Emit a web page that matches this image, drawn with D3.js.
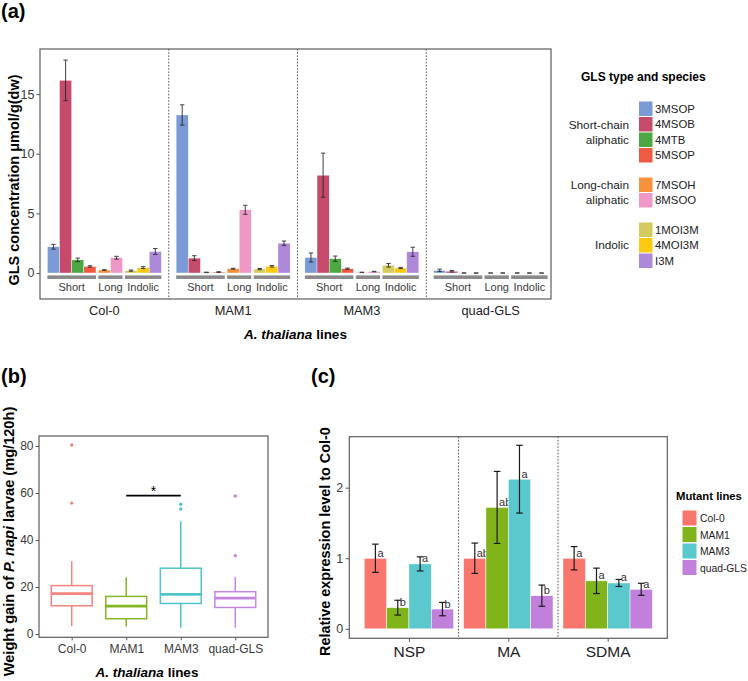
<!DOCTYPE html>
<html><head><meta charset="utf-8">
<script src="https://cdn.jsdelivr.net/npm/d3@7"></script>
<style>
body{margin:0;background:#fff;}
svg{display:block;font-family:"Liberation Sans",Arial,Helvetica,sans-serif;}
</style></head><body>
<svg id="chart" width="748" height="681"></svg>
<script>
// ================= DATA =================
// Panel (a): GLS concentration
const linesA = ["Col-0", "MAM1", "MAM3", "quad-GLS"];
const speciesA = ["3MSOP", "4MSOB", "4MTB", "5MSOP", "7MSOH", "8MSOO", "1MOI3M", "4MOI3M", "I3M"];
const typeA = ["Short", "Short", "Short", "Short", "Long", "Long", "Indolic", "Indolic", "Indolic"];
const typeOrder = ["Short", "Long", "Indolic"];
const legendGroupLabels = [["Short-chain", "aliphatic"], ["Long-chain", "aliphatic"], ["Indolic"]];
const speciesColors = ["#7b9bd7", "#c64a6c", "#4ba843", "#ef5a45", "#f5923a", "#ef97c6", "#d3cb5e", "#fbc90f", "#ae88d9"];
const glsCol0 = [2.2, 16.15, 1.1, 0.55, 0.25, 1.28, 0.2, 0.45, 1.8];
const glsCol0Err = [0.2, 1.7, 0.15, 0.06, 0.03, 0.12, 0.05, 0.08, 0.25];
const glsMAM1 = [13.25, 1.25, 0.05, 0.08, 0.36, 5.3, 0.33, 0.56, 2.5];
const glsMAM1Err = [0.85, 0.2, 0.02, 0.03, 0.04, 0.38, 0.05, 0.06, 0.18];
const glsMAM3 = [1.3, 8.2, 1.2, 0.36, 0.05, 0.12, 0.65, 0.42, 1.78];
const glsMAM3Err = [0.38, 1.85, 0.22, 0.05, 0.02, 0.02, 0.15, 0.05, 0.38];
const glsQuad = [0.22, 0.15, 0, 0, 0, 0, 0, 0, 0];
const glsQuadErr = [0.1, 0.06, 0.01, 0.01, 0.01, 0.01, 0.01, 0.01, 0.01];
const yTicksA = [0, 5, 10, 15];

// Panel (b): larval weight gain box plots
const boxLines = ["Col-0", "MAM1", "MAM3", "quad-GLS"];
const boxColors = ["#f4837b", "#86b524", "#4ec5ca", "#c485e3"];
const boxQ1 = [12.0, 6.5, 13.0, 11.3];
const boxMedian = [17.2, 11.9, 16.9, 15.3];
const boxQ3 = [20.6, 16.0, 28.0, 18.0];
const boxWhiskerLow = [3.4, 3.1, 2.7, 2.6];
const boxWhiskerHigh = [31.0, 24.2, 48.0, 24.3];
const boxOutliers = [[80.4, 55.7], [], [55.2, 53.2], [58.7, 33.3]];
const sigPair = ["MAM1", "MAM3"];
const sigLevel = 58.9;
const sigLabel = "*";
const yTicksB = [0, 20, 40, 60, 80];

// Panel (c): relative expression
const genes = ["NSP", "MA", "SDMA"];
const mutantLines = ["Col-0", "MAM1", "MAM3", "quad-GLS"];
const mutantColors = ["#f8766d", "#80b41a", "#5bc8cd", "#c280dd"];
const exprCol0 = [1.0, 1.0, 1.0];
const exprCol0Err = [0.2, 0.215, 0.165];
const exprMAM1 = [0.3, 1.72, 0.68];
const exprMAM1Err = [0.105, 0.51, 0.18];
const exprMAM3 = [0.92, 2.12, 0.65];
const exprMAM3Err = [0.1, 0.48, 0.05];
const exprQuad = [0.28, 0.47, 0.56];
const exprQuadErr = [0.095, 0.15, 0.085];
const lettersCol0 = ["a", "ab", "a"];
const lettersMAM1 = ["b", "ab", "a"];
const lettersMAM3 = ["a", "a", "a"];
const lettersQuad = ["b", "b", "a"];
const yTicksC = [0, 1, 2];

// ================= DRAWING =================
const svg = d3.select("#chart");
const frameColor = "#5c5c5c";
const tickText = "#3a3a3a";
const intFmt = d3.format("d");

function styleAxis(g, fs) {
  g.select(".domain").remove();
  g.selectAll(".tick line").attr("stroke", "#555");
  g.selectAll(".tick text").attr("fill", tickText).style("font-size", fs + "px");
}

// ---------- Panel (a) ----------
const A = {left: 40, right: 551, top: 49, bottom: 299};
const yA = d3.scaleLinear().domain([-2.18, 18.78]).range([A.bottom, A.top]);
const facetA = d3.scaleBand().domain(linesA).range([A.left, 555]);
const unitPos = speciesA.map((s, i) => i + typeOrder.indexOf(typeA[i]) * 0.19);
const innerA = d3.scaleLinear().domain([0, 9.38]).range([-57, 57]);
const barWA = innerA(1) - innerA(0);
const valsA = [glsCol0, glsMAM1, glsMAM3, glsQuad];
const errsA = [glsCol0Err, glsMAM1Err, glsMAM3Err, glsQuadErr];

const gA = svg.append("g");
gA.append("g").attr("transform", `translate(${A.left},0)`)
  .call(d3.axisLeft(yA).tickValues(yTicksA).tickFormat(intFmt).tickSize(3.5).tickPadding(2))
  .call(g => styleAxis(g, 12.5));

linesA.forEach((ln, li) => {
  const cx = facetA(ln) + facetA.bandwidth() / 2;
  const fg = gA.append("g");
  speciesA.forEach((sp, i) => {
    const v = valsA[li][i], e = errsA[li][i];
    const x0 = cx + innerA(unitPos[i]);
    fg.append("rect").attr("x", x0).attr("width", barWA)
      .attr("y", yA(v)).attr("height", Math.max(0, yA(0) - yA(v)))
      .attr("fill", speciesColors[i]).attr("stroke", "#fff").attr("stroke-width", 0.4);
    const bx = x0 + barWA / 2;
    const eg = fg.append("g").attr("stroke", "#222").attr("stroke-width", 1).attr("opacity", 0.85);
    eg.append("line").attr("x1", bx).attr("x2", bx).attr("y1", yA(v - e)).attr("y2", yA(v + e));
    [v - e, v + e].forEach(t => eg.append("line").attr("x1", bx - 2.2).attr("x2", bx + 2.2).attr("y1", yA(t)).attr("y2", yA(t)));
  });
  typeOrder.forEach(tp => {
    const idx = typeA.map((t, i) => t === tp ? i : -1).filter(i => i >= 0);
    const xs = cx + innerA(unitPos[idx[0]]);
    const xe = cx + innerA(unitPos[idx[idx.length - 1]] + 1);
    fg.append("rect").attr("x", xs).attr("width", xe - xs)
      .attr("y", yA(-0.2)).attr("height", yA(-0.5) - yA(-0.2)).attr("fill", "#8a8a8a");
    fg.append("text").attr("x", (xs + xe) / 2).attr("y", 290.5).attr("text-anchor", "middle")
      .style("font-size", "11px").attr("fill", tickText).text(tp);
  });
  gA.append("text").attr("x", cx).attr("y", 314.5).attr("text-anchor", "middle")
    .style("font-size", "12.8px").attr("fill", "#222").text(ln);
});
linesA.slice(1).forEach(ln => {
  gA.append("line").attr("x1", facetA(ln)).attr("x2", facetA(ln)).attr("y1", A.top).attr("y2", A.bottom)
    .attr("stroke", "#555").attr("stroke-width", 1).attr("stroke-dasharray", "1.6,1.6");
});
gA.append("rect").attr("x", A.left).attr("y", A.top).attr("width", A.right - A.left).attr("height", A.bottom - A.top)
  .attr("fill", "none").attr("stroke", frameColor).attr("stroke-width", 1.2);

svg.append("text").attr("x", 1).attr("y", 18).style("font-size", "20px").style("font-weight", "bold").text("(a)");
svg.append("text").attr("transform", `translate(19,${(A.top + A.bottom) / 2 + 6}) rotate(-90)`).attr("text-anchor", "middle")
  .style("font-size", "14.5px").style("font-weight", "bold").text("GLS concentration μmol/g(dw)");
const tA = svg.append("text").attr("x", (A.left + A.right) / 2).attr("y", 338.5).attr("text-anchor", "middle")
  .style("font-size", "13.5px").style("font-weight", "bold");
tA.append("tspan").style("font-style", "italic").text("A. thaliana");
tA.append("tspan").text(" lines");

// legend (a)
svg.append("text").attr("x", 581).attr("y", 81).style("font-size", "12px").style("font-weight", "bold").text("GLS type and species");
const legTop = i => 101.5 + i * 15.5 + typeOrder.indexOf(typeA[i]) * 14;
speciesA.forEach((sp, i) => {
  svg.append("rect").attr("x", 639).attr("y", legTop(i)).attr("width", 13.5).attr("height", 14.5).attr("fill", speciesColors[i]);
  svg.append("text").attr("x", 655).attr("y", legTop(i) + 11).style("font-size", "11.4px").attr("fill", "#222").text(sp);
});
typeOrder.forEach((tp, gi) => {
  const idx = typeA.map((t, i) => t === tp ? i : -1).filter(i => i >= 0);
  const cy = (legTop(idx[0]) + legTop(idx[idx.length - 1]) + 14.5) / 2;
  const lbl = legendGroupLabels[gi];
  lbl.forEach((l, k) => {
    svg.append("text").attr("x", 629).attr("y", cy + 4 + (k - (lbl.length - 1) / 2) * 15)
      .attr("text-anchor", "end").style("font-size", "11.8px").attr("fill", "#222").text(l);
  });
});

// ---------- Panel (b) ----------
const B = {left: 39, right: 268, top: 436, bottom: 637.3};
const yB = d3.scaleLinear().domain([-1.4, 84.25]).range([B.bottom, B.top]);
const xB = d3.scalePoint().domain(boxLines).range([B.left, B.right]).padding(0.6);
const bwB = xB.step() * 0.75;
const gB = svg.append("g");
gB.append("g").attr("transform", `translate(${B.left},0)`)
  .call(d3.axisLeft(yB).tickValues(yTicksB).tickFormat(intFmt).tickSize(3.5).tickPadding(2))
  .call(g => styleAxis(g, 12));
gB.append("g").attr("transform", `translate(0,${B.bottom})`)
  .call(d3.axisBottom(xB).tickSize(3).tickPadding(4))
  .call(g => styleAxis(g, 12));

boxLines.forEach((ln, i) => {
  const cx = xB(ln), col = boxColors[i];
  const g = gB.append("g").attr("stroke", col).attr("fill", "none").attr("stroke-width", 1.5);
  g.append("line").attr("x1", cx).attr("x2", cx).attr("y1", yB(boxQ3[i])).attr("y2", yB(boxWhiskerHigh[i]));
  g.append("line").attr("x1", cx).attr("x2", cx).attr("y1", yB(boxQ1[i])).attr("y2", yB(boxWhiskerLow[i]));
  g.append("rect").attr("x", cx - bwB / 2).attr("width", bwB).attr("y", yB(boxQ3[i])).attr("height", yB(boxQ1[i]) - yB(boxQ3[i]))
    .attr("fill", "#fff");
  g.append("line").attr("x1", cx - bwB / 2).attr("x2", cx + bwB / 2).attr("y1", yB(boxMedian[i])).attr("y2", yB(boxMedian[i]))
    .attr("stroke-width", 2.8);
  boxOutliers[i].forEach(o => gB.append("circle").attr("cx", cx).attr("cy", yB(o)).attr("r", 1.7).attr("fill", col));
});
gB.append("line").attr("x1", xB(sigPair[0])).attr("x2", xB(sigPair[1])).attr("y1", yB(sigLevel)).attr("y2", yB(sigLevel))
  .attr("stroke", "#000").attr("stroke-width", 1.6);
gB.append("text").attr("x", (xB(sigPair[0]) + xB(sigPair[1])) / 2).attr("y", yB(sigLevel) + 0.5).attr("text-anchor", "middle")
  .style("font-size", "14px").text(sigLabel);
gB.append("rect").attr("x", B.left).attr("y", B.top).attr("width", B.right - B.left).attr("height", B.bottom - B.top)
  .attr("fill", "none").attr("stroke", frameColor).attr("stroke-width", 1.2);

svg.append("text").attr("x", 1).attr("y", 383).style("font-size", "20px").style("font-weight", "bold").text("(b)");
const tBy = svg.append("text").attr("transform", `translate(14,541.5) rotate(-90)`).attr("text-anchor", "middle")
  .style("font-size", "14.6px").style("font-weight", "bold");
tBy.append("tspan").text("Weight gain of ");
tBy.append("tspan").style("font-style", "italic").text("P. napi");
tBy.append("tspan").text(" larvae (mg/120h)");
const tBx = svg.append("text").attr("x", 147).attr("y", 676.5).attr("text-anchor", "middle")
  .style("font-size", "13.5px").style("font-weight", "bold");
tBx.append("tspan").style("font-style", "italic").text("A. thaliana");
tBx.append("tspan").text(" lines");

// ---------- Panel (c) ----------
const C = {left: 349.3, right: 667.3, top: 436.7, bottom: 638.3};
const yC = d3.scaleLinear().domain([-0.134, 2.722]).range([C.bottom, C.top]);
const xC = d3.scalePoint().domain(genes).range([C.left, C.right]).padding(0.6);
const dodge = d3.scaleBand().domain(mutantLines).range([-0.45 * xC.step(), 0.45 * xC.step()]);
const valsC = [exprCol0, exprMAM1, exprMAM3, exprQuad];
const errsC = [exprCol0Err, exprMAM1Err, exprMAM3Err, exprQuadErr];
const letC = [lettersCol0, lettersMAM1, lettersMAM3, lettersQuad];
const gC = svg.append("g");
gC.append("g").attr("transform", `translate(${C.left},0)`)
  .call(d3.axisLeft(yC).tickValues(yTicksC).tickFormat(intFmt).tickSize(3.5).tickPadding(2.5))
  .call(g => styleAxis(g, 12.5));
gC.append("g").attr("transform", `translate(0,${C.bottom})`)
  .call(d3.axisBottom(xC).tickSize(3.5).tickPadding(4))
  .call(g => styleAxis(g, 15.5));
gC.selectAll("g.tick text").filter(function(){ return genes.includes(this.textContent); }).attr("fill", "#222");

genes.forEach((gn, gi) => {
  mutantLines.forEach((ml, mi) => {
    const v = valsC[mi][gi], e = errsC[mi][gi];
    const x0 = xC(gn) + dodge(ml);
    gC.append("rect").attr("x", x0).attr("width", dodge.bandwidth()).attr("y", yC(v)).attr("height", yC(0) - yC(v))
      .attr("fill", mutantColors[mi]).attr("stroke", "#fff").attr("stroke-width", 0.5);
    const bx = x0 + dodge.bandwidth() / 2;
    const eg = gC.append("g").attr("stroke", "#1a1a1a").attr("stroke-width", 1.2);
    eg.append("line").attr("x1", bx).attr("x2", bx).attr("y1", yC(v - e)).attr("y2", yC(v + e));
    [v - e, v + e].forEach(t => eg.append("line").attr("x1", bx - 3.3).attr("x2", bx + 3.3).attr("y1", yC(t)).attr("y2", yC(t)));
    gC.append("text").attr("x", bx + 2).attr("y", yC(v) - 1.5).style("font-size", "11px").attr("fill", "#333").text(letC[mi][gi]);
  });
});
genes.slice(1).forEach((gn, k) => {
  const xd = (xC(genes[k]) + xC(gn)) / 2;
  gC.append("line").attr("x1", xd).attr("x2", xd).attr("y1", C.top).attr("y2", C.bottom)
    .attr("stroke", "#555").attr("stroke-width", 1).attr("stroke-dasharray", "1.6,1.6");
});
gC.append("rect").attr("x", C.left).attr("y", C.top).attr("width", C.right - C.left).attr("height", C.bottom - C.top)
  .attr("fill", "none").attr("stroke", frameColor).attr("stroke-width", 1.2);

svg.append("text").attr("x", 311).attr("y", 383).style("font-size", "20px").style("font-weight", "bold").text("(c)");
svg.append("text").attr("transform", `translate(330,541.6) rotate(-90)`).attr("text-anchor", "middle")
  .style("font-size", "14.4px").style("font-weight", "bold").text("Relative expression level to Col-0");

// legend (c)
svg.append("text").attr("x", 676).attr("y", 499.5).style("font-size", "11.3px").style("font-weight", "bold").text("Mutant lines");
mutantLines.forEach((ml, i) => {
  const ty = 510.5 + i * 16.5;
  svg.append("rect").attr("x", 682.5).attr("y", ty).attr("width", 14).attr("height", 15).attr("fill", mutantColors[i]);
  svg.append("text").attr("x", 700).attr("y", ty + 11.5).style("font-size", "10.3px").attr("fill", "#222").text(ml);
});
</script>
</body></html>
